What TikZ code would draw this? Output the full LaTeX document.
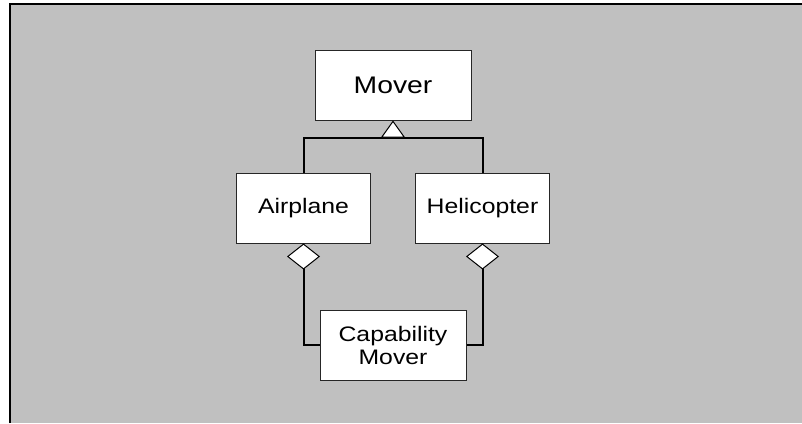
\documentclass[tikz,border=0pt]{standalone}
\usepackage{fontspec}
\setmainfont{Liberation Sans}[FakeStretch=1.18]
\usetikzlibrary{calc,positioning,arrows.meta}
\definecolor{panelgray}{HTML}{C0C0C0}
\tikzset{
    classbox/.style={
        rectangle,
        draw=black!85, line width=1pt,
        fill=white,
        minimum width=134pt,
        minimum height=70pt,
        inner sep=0pt,
        align=center,
        font=\fontsize{21}{23}\selectfont
    },
    conn/.style={draw, line width=2pt, black},
    inherit/.style={conn, -{Triangle[fill=white, line width=1pt, length=17pt, width=24pt]}},
    aggregate/.style={conn, {Diamond[fill=white, line width=1pt, length=26pt, width=33pt]}-}
}

\begin{document}
\begin{tikzpicture}[x=1pt, y=-1pt]
    \useasboundingbox (0,0) rectangle (802,423);
    \fill[panelgray] (10,4) rectangle (802,423);
    \draw[line width=2pt] (10,423) -- (10,4) -- (802,4);

    \node[classbox, minimum width=156pt, font=\fontsize{24}{28}\selectfont] (Mover) at (393,85) {Mover};
    \node[classbox, below left=52pt and 22pt of Mover.south, anchor=north east] (Airplane) {Airplane};
    \node[classbox, right=44pt of Airplane] (Helicopter) {Helicopter};
    \node[classbox, minimum width=146pt] (CapMover) at (393,345) {Capability\\Mover};

    \coordinate (joint) at ($(Mover.south)+(0,17)$);
    \draw[conn] (Airplane.north) |- (joint) -| (Helicopter.north);
    \draw[inherit] (joint) -- (Mover.south);

    \draw[aggregate] (Airplane.south) |- (CapMover.west);
    \draw[aggregate] (Helicopter.south) |- (CapMover.east);
\end{tikzpicture}
\end{document}
